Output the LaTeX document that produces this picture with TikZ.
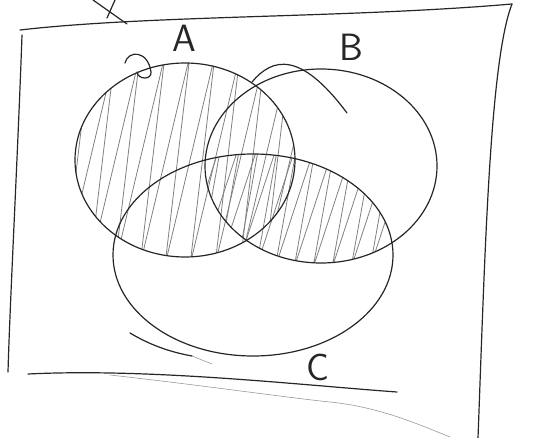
\documentclass[tikz,border=0pt]{standalone}
\begin{document}
\begin{tikzpicture}[x=1pt,y=-1pt,
  outline/.style={line width=1.2pt, draw=black!85, line cap=round, line join=round},
  faint/.style={line width=0.6pt, draw=black!40, line cap=round},
  hatch/.style={line width=0.8pt, draw=black!50, line join=round},
  lbl/.style={font=\sffamily\fontsize{38}{38}\selectfont, text=black!85, inner sep=0pt}]
\useasboundingbox (0,0) rectangle (540,438);
\def\ellA{(185,160) ellipse [x radius=110, y radius=97]}
\def\ellB{(321,166) ellipse [x radius=116, y radius=97]}
\def\ellC{(253,255) ellipse [x radius=140, y radius=101]}
% universe frame
\draw[outline] (20,30) .. controls (150,15) and (350,18) .. (512,4);
\draw[outline] (22,35) .. controls (18,150) and (10,300) .. (8,372);
\draw[outline] (512,4) .. controls (490,60) and (485,250) .. (478,438);
\draw[outline] (28,374) .. controls (150,368) and (300,385) .. (397,392);
\draw[faint] (110,375) .. controls (200,385) and (290,398) .. (330,402) .. controls (380,407) and (420,425) .. (450,437);
% mark at the top
\draw[outline] (93,0) -- (127,24);
\draw[outline] (107,18) -- (115,0);
% hatching of A
\begin{scope}
  \clip \ellA;
  \draw[hatch] (40,265) \foreach \i in {0,...,11} { -- ({90+\i*25},55) -- ({65+\i*25},265) };
\end{scope}
% hatching of B and C
\begin{scope}
  \clip \ellB;
  \clip \ellC;
  \draw[hatch] (180,268) \foreach \i in {0,...,10} { -- ({222+\i*19},140) -- ({199+\i*19},268) };
\end{scope}
% sets
\draw[outline] \ellA;
\draw[outline] \ellB;
\draw[outline] \ellC;
% extra strokes
\draw[outline] (125,63) .. controls (128,50) and (148,50) .. (151,72) .. controls (152,80) and (138,80) .. (137,72);
\draw[outline] (252,82) .. controls (272,58) and (300,50) .. (347,113);
\draw[outline] (130,333) .. controls (150,345) and (170,352) .. (192,356);
\draw[faint] (192,356) -- (212,364);
% labels
\node[lbl] (la) at (184,38) {A};
\node[lbl] (lb) at (351,47) {B};
\node[lbl] (lc) at (318,367) {C};
\end{tikzpicture}
\end{document}
